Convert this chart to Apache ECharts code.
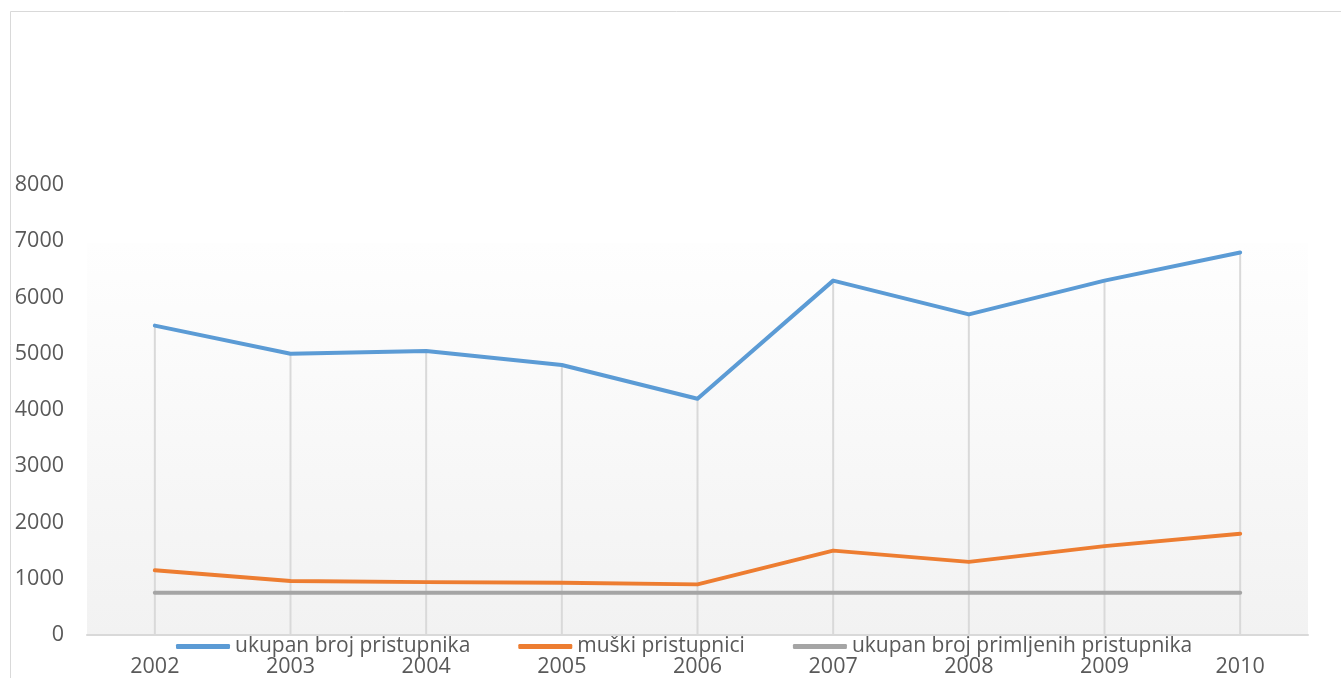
<!DOCTYPE html>
<html>
<head>
<meta charset="utf-8">
<script src="https://cdn.jsdelivr.net/npm/echarts@6/dist/echarts.min.js"></script>
<style>
  html, body { margin: 0; padding: 0; background: #fff; }
  #chart { width: 1341px; height: 678px; }
</style>
</head>
<body>
<div id="chart"></div>
<script>
// godine
var years = ["2002", "2003", "2004", "2005", "2006", "2007", "2008", "2009", "2010"];
// serije
var ukupanBroj = [5500, 5000, 5050, 4800, 4200, 6300, 5700, 6300, 6800];
var muskiPristupnici = [1150, 960, 940, 930, 900, 1500, 1300, 1580, 1800];
var primljeniPristupnici = [750, 750, 750, 750, 750, 750, 750, 750, 750];
var seriesNames = ["ukupan broj pristupnika", "muški pristupnici", "ukupan broj primljenih pristupnika"];

var chart = echarts.init(document.getElementById("chart"));
var font = "'Open Sans', sans-serif";

function lineSeries(name, data, color) {
  return {
    name: name,
    type: "line",
    data: data,
    symbol: "none",
    z: 3,
    itemStyle: { color: color },
    lineStyle: { color: color, width: 4, cap: "round", join: "round" }
  };
}

var option = {
  backgroundColor: "#fff",
  animation: false,
  graphic: [
    {
      type: "rect",
      shape: { x: 10.5, y: 11.5, width: 1400, height: 700 },
      style: { fill: null, stroke: "#d9d9d9", lineWidth: 1 },
      silent: true
    }
  ],
  grid: {
    left: 87,
    right: 33,
    top: 185,
    bottom: 43,
    show: true,
    borderWidth: 0,
    backgroundColor: new echarts.graphic.LinearGradient(0, 0, 0, 1, [
      { offset: 0, color: "#ffffff" },
      { offset: 0.128, color: "#ffffff" },
      { offset: 0.13, color: "#fefefe" },
      { offset: 1, color: "#f2f2f2" }
    ])
  },
  legend: {
    data: seriesNames,
    left: 171,
    top: 631,
    itemWidth: 54,
    itemHeight: 5,
    itemGap: 48,
    icon: "roundRect",
    textStyle: { fontFamily: font, fontSize: 21, color: "#595959" }
  },
  xAxis: {
    type: "category",
    data: years,
    boundaryGap: true,
    axisLine: { show: true, lineStyle: { color: "#d9d9d9", width: 2 } },
    axisTick: { show: false },
    axisLabel: { margin: 21, fontFamily: font, fontSize: 21.5, color: "#595959" },
    splitLine: { show: false }
  },
  yAxis: {
    type: "value",
    min: 0,
    max: 8000,
    interval: 1000,
    axisLine: { show: false },
    axisTick: { show: false },
    splitLine: { show: false },
    axisLabel: {
      margin: 23,
      fontFamily: font,
      fontSize: 21.5,
      color: "#595959",
      formatter: function (v) { return String(v); }
    }
  },
  series: [
    {
      name: "drop",
      type: "bar",
      data: ukupanBroj,
      barWidth: 2,
      silent: true,
      z: 1,
      itemStyle: { color: "#d9d9d9" }
    },
    lineSeries(seriesNames[0], ukupanBroj, "#5b9bd5"),
    lineSeries(seriesNames[1], muskiPristupnici, "#ed7d31"),
    lineSeries(seriesNames[2], primljeniPristupnici, "#a5a5a5")
  ]
};
chart.setOption(option);
</script>
</body>
</html>
